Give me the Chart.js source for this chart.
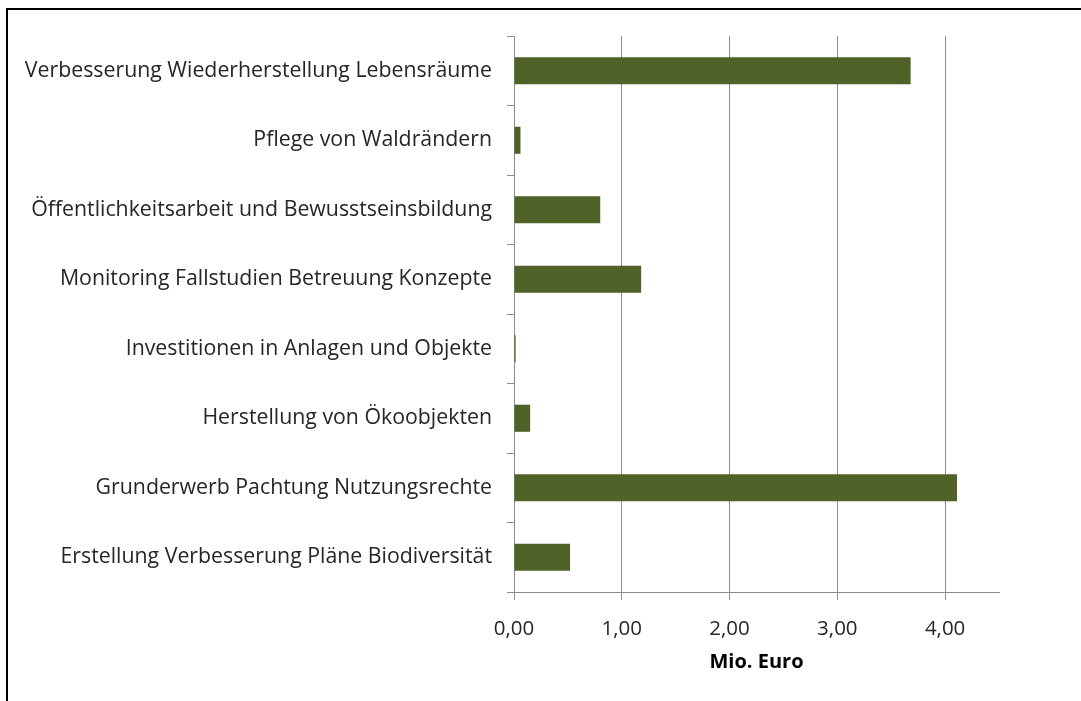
<!DOCTYPE html>
<html>
<head>
<meta charset="utf-8">
<script src="https://cdn.jsdelivr.net/npm/chart.js@4/dist/chart.umd.min.js"></script>
<style>
  html, body { margin: 0; padding: 0; background: #ffffff; }
  #wrap { position: relative; width: 1081px; height: 701px; overflow: hidden; }
  canvas { display: block; }
</style>
</head>
<body>
<div id="wrap"><canvas id="c" width="1081" height="701"></canvas></div>
<script>
const categories = [
  "Verbesserung Wiederherstellung Lebensräume",
  "Pflege von Waldrändern",
  "Öffentlichkeitsarbeit und Bewusstseinsbildung",
  "Monitoring Fallstudien Betreuung Konzepte",
  "Investitionen in Anlagen und Objekte",
  "Herstellung von Ökoobjekten",
  "Grunderwerb Pachtung Nutzungsrechte",
  "Erstellung Verbesserung Pläne Biodiversität"
];
const values = [3.68, 0.06, 0.80, 1.18, 0.015, 0.15, 4.11, 0.52];
const xTickValues = [0, 1, 2, 3, 4];
const axisTitle = "Mio. Euro";

const FONT = "'Open Sans', 'Noto Sans', sans-serif";
const GRID = "#8c8c8c";

const framePlugin = {
  id: 'frame',
  beforeDraw(chart) {
    const ctx = chart.ctx;
    ctx.save();
    ctx.fillStyle = '#ffffff';
    ctx.fillRect(0, 0, chart.width, chart.height);
    ctx.strokeStyle = '#000000';
    ctx.lineWidth = 2;
    ctx.beginPath();
    ctx.moveTo(7, chart.height + 5);
    ctx.lineTo(7, 9);
    ctx.lineTo(chart.width + 5, 9);
    ctx.stroke();
    ctx.restore();
  }
};

new Chart(document.getElementById('c'), {
  type: 'bar',
  data: {
    labels: categories,
    datasets: [{
      data: values,
      backgroundColor: '#4F6228',
      borderColor: '#4F6228',
      borderWidth: 0,
      categoryPercentage: 1.0,
      barPercentage: 0.39
    }]
  },
  options: {
    indexAxis: 'y',
    responsive: false,
    animation: false,
    devicePixelRatio: 1,
    layout: { padding: { top: 36, right: 82, bottom: 0, left: 0 } },
    plugins: {
      legend: { display: false },
      tooltip: { enabled: false }
    },
    scales: {
      y: {
        type: 'category',
        grid: {
          drawOnChartArea: false,
          offset: true,
          tickLength: 7,
          color: GRID,
          lineWidth: 1
        },
        border: { color: GRID, width: 1 },
        ticks: {
          color: '#262626',
          font: { family: FONT, size: 21.3 },
          padding: 15,
          autoSkip: false
        },
        afterFit(scale) { scale.width = 514; }
      },
      x: {
        type: 'linear',
        min: 0,
        max: 4.5,
        grid: {
          color: GRID,
          lineWidth: 1,
          tickLength: 8,
          drawTicks: true
        },
        border: { color: GRID, width: 1 },
        ticks: {
          stepSize: 1,
          color: '#262626',
          font: { family: FONT, size: 20.5 },
          padding: 17,
          maxRotation: 0,
          callback: (v) => Number(v).toFixed(2).replace('.', ',')
        },
        afterBuildTicks(scale) {
          scale.ticks = xTickValues.map(v => ({ value: v }));
        },
        title: {
          display: true,
          text: axisTitle,
          color: '#000000',
          font: { family: FONT, size: 20, weight: 'bold' },
          padding: { top: 0, bottom: 27 }
        },
        afterFit(scale) { scale.height = 109; }
      }
    }
  },
  plugins: [framePlugin]
});
</script>
</body>
</html>
